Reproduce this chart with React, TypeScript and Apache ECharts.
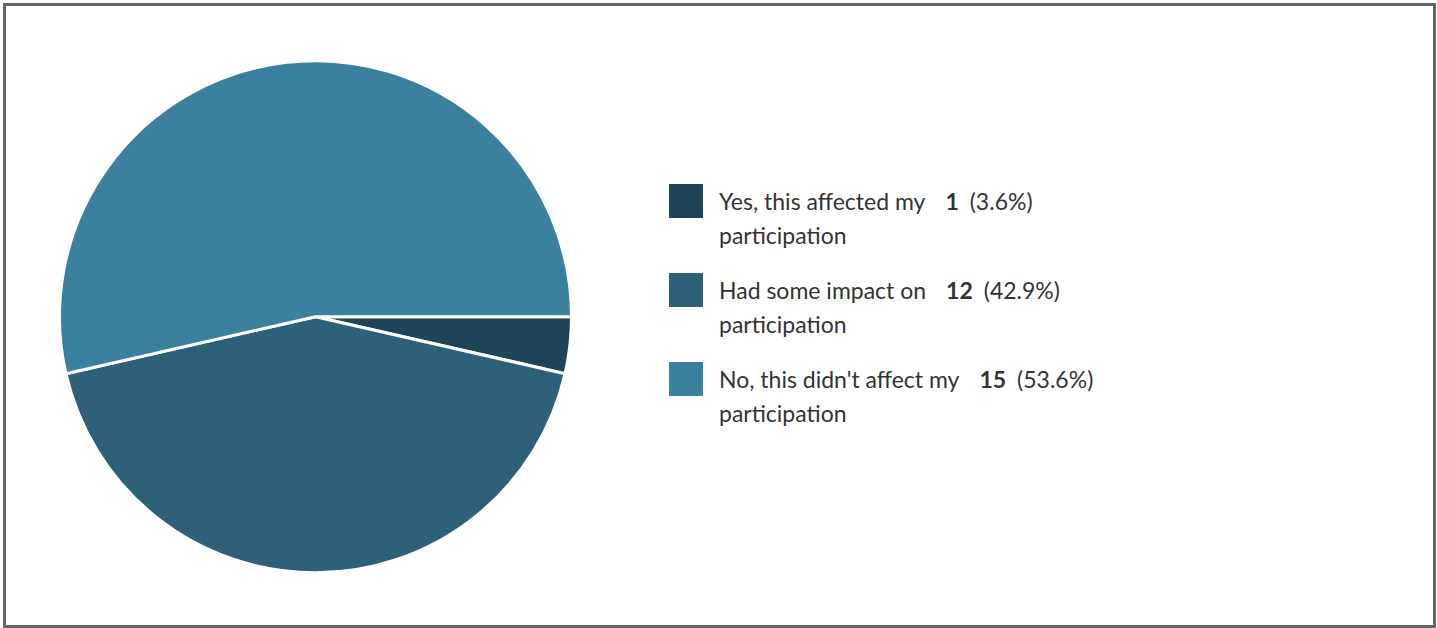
import React, { useEffect, useRef } from "react";
import * as echarts from "echarts";

const categories: string[] = [
  "Yes, this affected my participation",
  "Had some impact on participation",
  "No, this didn't affect my participation",
];
const firstLines: string[] = ["Yes, this affected my", "Had some impact on", "No, this didn't affect my"];
const secondLines: string[] = ["participation", "participation", "participation"];
const counts: number[] = [1, 12, 15];
const colors: string[] = ["#1f4457", "#2e6179", "#3c80a0"];

export default function App() {
  const ref = useRef<HTMLDivElement>(null);
  useEffect(() => {
    document.body.style.margin = "0";
    if (!ref.current) return;
    const chart = echarts.init(ref.current, null, { renderer: "svg" });
    const total = counts.reduce((a, b) => a + b, 0);
    const font = "Lato, 'Noto Sans', sans-serif";
    const fs = 23;
    const lh = 34;
    const legendX = 669;
    const legendY0 = 184;
    const step = 89;
    const legendEls: any[] = [];
    categories.forEach((c, i) => {
      const pct = ((counts[i] / total) * 100).toFixed(1);
      const y = legendY0 + i * step;
      legendEls.push({
        type: "rect",
        shape: { x: legendX, y, width: 34, height: 34 },
        style: { fill: colors[i] },
      });
      legendEls.push({
        type: "text",
        x: 719,
        y: y,
        style: {
          text: `{name|${firstLines[i]}}{num|${counts[i]}}{pct|(${pct}%)}\n{name|${secondLines[i]}}`,
          font: `${fs}px ${font}`,
          fill: "#333",
          verticalAlign: "top",
          rich: {
            name: { fontSize: fs, fontFamily: font, fill: "#333", lineHeight: lh },
            num: {
              fontSize: fs,
              fontFamily: font,
              fontWeight: "bold",
              fill: "#333",
              lineHeight: lh,
              padding: [0, 11, 0, 20],
            },
            pct: { fontSize: fs, fontFamily: font, fill: "#333", lineHeight: lh },
          },
        },
      });
    });
    chart.setOption({
      animation: false,
      backgroundColor: "#fff",
      graphic: [
        {
          type: "rect",
          shape: { x: 4.5, y: 4.5, width: 1430, height: 622 },
          style: { fill: "none", stroke: "#666", lineWidth: 3 },
          silent: true,
        },
        ...legendEls,
      ],
      series: [
        {
          type: "pie",
          center: [315.5, 316.7],
          radius: 256,
          startAngle: 0,
          clockwise: true,
          label: { show: false },
          labelLine: { show: false },
          itemStyle: { borderColor: "#fff", borderWidth: 3 },
          emphasis: { disabled: true },
          data: categories.map((c, i) => ({
            name: c,
            value: counts[i],
            itemStyle: { color: colors[i] },
          })),
        },
      ],
    });
    return () => chart.dispose();
  }, []);
  return (
    <div
      ref={ref}
      style={{ position: "absolute", left: 0, top: 0, width: 1437, height: 628 }}
    />
  );
}
